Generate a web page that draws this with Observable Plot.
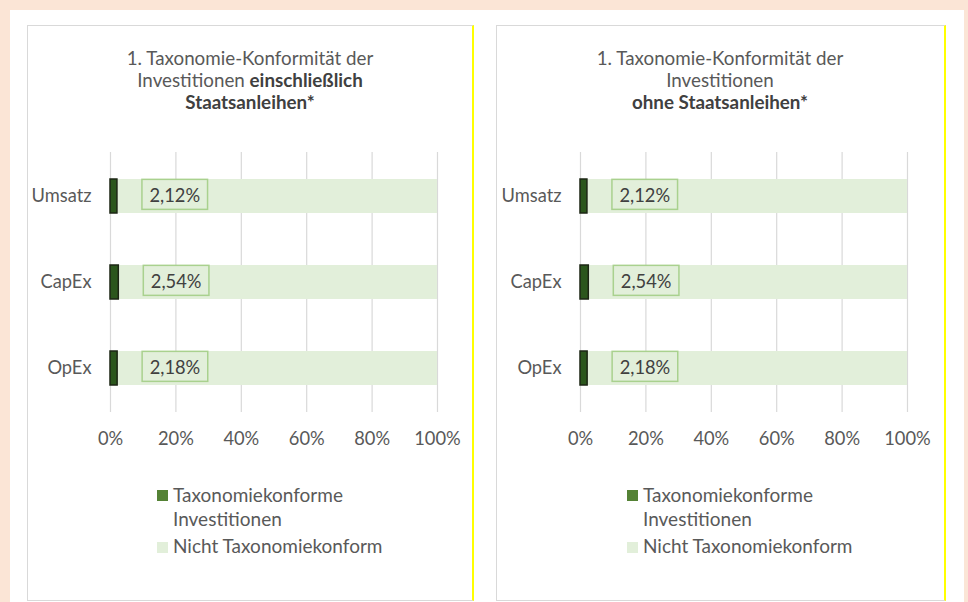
<!DOCTYPE html>
<html>
<head>
<meta charset="utf-8">
<script src="https://cdn.jsdelivr.net/npm/d3@7"></script>
<script src="https://cdn.jsdelivr.net/npm/@observablehq/plot@0.6"></script>
<style>
  html, body { margin:0; padding:0; }
  body { width:968px; height:602px; background:#fbe5d6; position:relative; overflow:hidden;
         font-family: Lato, "Open Sans", sans-serif; }
  .sheet { position:absolute; left:10px; top:10px; width:954px; height:592px; background:#ffffff; }
  .panel { position:absolute; top:25px; height:576px; box-sizing:border-box;
           border:1px solid #d9d9d9; border-right:2px solid #ffff00; background:#fff; }
  .title { position:absolute; top:47px; text-align:center; font-size:18.8px; line-height:22px; color:#595959; }
  .title b { color:#404040; font-weight:700; }
  .plot { position:absolute; top:140px; }
  .leg { position:absolute; font-size:19px; line-height:24px; color:#595959; }
  .leg .sw { position:absolute; width:10.5px; height:10.5px; }
  .leg .tx { position:absolute; left:16px; white-space:nowrap; }
</style>
</head>
<body>
<div class="sheet"></div>
<div class="panel" style="left:27px;width:447px"></div>
<div class="panel" style="left:496px;width:450px"></div>
<div class="title" style="left:27px;width:446px">1. Taxonomie-Konformität der<br>Investitionen <b>einschließlich</b><br><b>Staatsanleihen*</b></div>
<div class="title" style="left:496px;width:448px">1. Taxonomie-Konformität der<br>Investitionen<br><b>ohne Staatsanleihen*</b></div>
<div id="chartL" class="plot" style="left:27px"></div>
<div id="chartR" class="plot" style="left:496px"></div>
<div id="legL" class="leg" style="left:157px;top:483px"></div>
<div id="legR" class="leg" style="left:627px;top:483px"></div>
<script>
// ---- data ----
const categories = ["Umsatz", "CapEx", "OpEx"];
const alignedInclSovereign = [2.12, 2.54, 2.18];
const alignedExclSovereign = [2.12, 2.54, 2.18];
const total = 100;
const xTicks = [0, 20, 40, 60, 80, 100];
const xTickLabels = ["0%", "20%", "40%", "60%", "80%", "100%"];
const seriesNames = ["Taxonomiekonforme<br>Investitionen", "Nicht Taxonomiekonform"];
const seriesColors = ["#548235", "#e2efda"];

const fmt = v => v.toFixed(2).replace(".", ",") + "%";
const FONT = "Lato, 'Open Sans', sans-serif";
const FS = 18.3;

function makeChart(values, width, mLeft, mRight) {
  const data = categories.map((c, i) => ({cat: c, v: values[i]}));
  return Plot.plot({
    width, height: 320,
    marginLeft: mLeft, marginRight: mRight, marginTop: 12, marginBottom: 48,
    style: {fontFamily: FONT, fontSize: FS + "px", color: "#595959", background: "transparent", overflow: "visible"},
    x: {domain: [0, total], label: null},
    y: {domain: categories, paddingInner: 0.61, paddingOuter: 0.305, label: null},
    marks: [
      Plot.ruleX(xTicks, {stroke: "#d9d9d9", strokeWidth: 1.2}),
      Plot.axisX({ticks: xTicks, tickFormat: d => xTickLabels[xTicks.indexOf(d)], tickSize: 0, tickPadding: 19, fontSize: FS, fill: "#595959", label: null}),
      Plot.axisY({tickSize: 0, tickPadding: 19, fontSize: FS, fill: "#595959", label: null}),
      Plot.barX(data, {y: "cat", x1: "v", x2: d => total, fill: seriesColors[1]}),
      Plot.barX(data, {y: "cat", x1: d => 0, x2: "v", fill: "#2b561c", stroke: "#1c2614", strokeWidth: 1.5}),
      Plot.text(data, {y: "cat", x: "v", text: d => fmt(d.v), dx: 32, textAnchor: "start", fill: "#404040", fontSize: FS})
    ]
  });
}

function addBoxes(svg) {
  const g = svg.querySelector('g[aria-label="text"]');
  if (!g) return;
  const ns = "http://www.w3.org/2000/svg";
  const sr = svg.getBoundingClientRect();
  const boxes = document.createElementNS(ns, "g");
  g.querySelectorAll("text").forEach(t => {
    const b = t.getBoundingClientRect();
    const r = document.createElementNS(ns, "rect");
    r.setAttribute("x", b.left - sr.left - 7.5);
    r.setAttribute("y", b.top - sr.top - 5);
    r.setAttribute("width", b.width + 15);
    r.setAttribute("height", b.height + 8);
    r.setAttribute("fill", "none");
    r.setAttribute("stroke", "#a9d18e");
    r.setAttribute("stroke-width", 1.5);
    boxes.appendChild(r);
  });
  g.parentNode.insertBefore(boxes, g);
}

const left = makeChart(alignedInclSovereign, 446, 83, 36);
document.getElementById("chartL").appendChild(left);
addBoxes(left);
const right = makeChart(alignedExclSovereign, 448, 84, 37);
document.getElementById("chartR").appendChild(right);
addBoxes(right);

function legend(id) {
  const el = document.getElementById(id);
  el.innerHTML =
    `<span class="sw" style="top:7px;background:${seriesColors[0]}"></span><span class="tx" style="top:0">${seriesNames[0]}</span>` +
    `<span class="sw" style="top:59px;background:${seriesColors[1]}"></span><span class="tx" style="top:51px">${seriesNames[1]}</span>`;
}
legend("legL");
legend("legR");
</script>
</body>
</html>
